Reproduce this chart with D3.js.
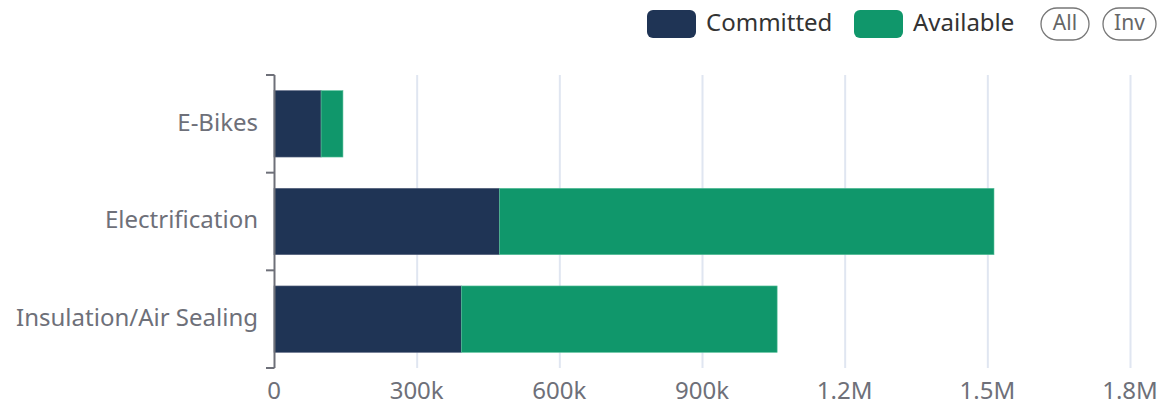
<!DOCTYPE html>
<html>
<head>
<meta charset="utf-8">
<script src="https://cdn.jsdelivr.net/npm/d3@7"></script>
<style>
  body { margin: 0; background: #fff; }
  svg { display: block; }
</style>
</head>
<body>
<svg id="chart"></svg>
<script>
// data
const categories = ['E-Bikes', 'Electrification', 'Insulation/Air Sealing'];
const committed = [99000, 474000, 394000];
const available = [46000, 1040000, 664000];
const seriesNames = ['Committed', 'Available'];
const xTicks = [0, 300000, 600000, 900000, 1200000, 1500000, 1800000];
const xTickLabels = ['0', '300k', '600k', '900k', '1.2M', '1.5M', '1.8M'];

// drawing constants
const W = 1160, H = 405;
const LEFT = 274, RIGHT = 1130, TOP = 75, BOTTOM = 368;
const COLORS = ['#1f3455', '#10976b'];
const TEXT = '#6e7079';
const FONT = '"Noto Sans", sans-serif';
const FS = 24;

const svg = d3.select('#chart')
  .attr('width', W)
  .attr('height', H)
  .attr('font-family', FONT);

const x = d3.scaleLinear().domain([0, 1800000]).range([LEFT, RIGHT]);
const y = d3.scaleBand().domain(categories).range([TOP, BOTTOM])
  .paddingInner(0.32).paddingOuter(0.16);

// vertical grid lines
svg.append('g')
  .selectAll('line')
  .data(xTicks.slice(1))
  .join('line')
  .attr('x1', d => x(d) + 0.5)
  .attr('x2', d => x(d) + 0.5)
  .attr('y1', TOP)
  .attr('y2', BOTTOM)
  .attr('stroke', '#e0e6f1')
  .attr('stroke-width', 2);

// stacked bars
const rows = categories.map((c, i) => ({ cat: c, vals: [committed[i], available[i]] }));
rows.forEach(r => {
  let acc = 0;
  r.vals.forEach((v, k) => {
    svg.append('rect')
      .attr('x', x(acc))
      .attr('y', y(r.cat))
      .attr('width', x(acc + v) - x(acc))
      .attr('height', y.bandwidth())
      .attr('fill', COLORS[k])
      .attr('stroke', k === 0 ? '#5a6680' : '#5cc19c')
      .attr('stroke-width', 0.6);
    acc += v;
  });
});

// y axis line + ticks at band boundaries
const step = y.step();
const bounds = d3.range(categories.length + 1).map(i => TOP + i * step);
svg.append('line')
  .attr('x1', LEFT + 0.5).attr('x2', LEFT + 0.5)
  .attr('y1', TOP).attr('y2', BOTTOM)
  .attr('stroke', TEXT).attr('stroke-width', 2);
svg.append('g')
  .selectAll('line')
  .data(bounds)
  .join('line')
  .attr('x1', LEFT - 8).attr('x2', LEFT + 0.5)
  .attr('y1', d => d).attr('y2', d => d)
  .attr('stroke', TEXT).attr('stroke-width', 2);

// category labels
svg.append('g')
  .selectAll('text')
  .data(categories)
  .join('text')
  .attr('x', LEFT - 16)
  .attr('y', d => y(d) + y.bandwidth() / 2)
  .attr('dy', '0.28em')
  .attr('text-anchor', 'end')
  .attr('font-size', FS)
  .attr('fill', TEXT)
  .text(d => d);

// x tick labels
svg.append('g')
  .selectAll('text')
  .data(xTicks)
  .join('text')
  .attr('x', d => x(d))
  .attr('y', 391)
  .attr('dy', '0.35em')
  .attr('text-anchor', 'middle')
  .attr('font-size', FS)
  .attr('fill', TEXT)
  .text((d, i) => xTickLabels[i]);

// legend
const legend = svg.append('g').attr('font-size', FS);
const legendX = [647, 854];
seriesNames.forEach((name, i) => {
  legend.append('rect')
    .attr('x', legendX[i]).attr('y', 10)
    .attr('width', 49).attr('height', 28)
    .attr('rx', 6)
    .attr('fill', COLORS[i]);
  legend.append('text')
    .attr('x', legendX[i] + 59).attr('y', 23)
    .attr('dy', '0.35em')
    .attr('fill', '#333')
    .text(name);
});

// selector buttons
const buttons = [{ t: 'All', x: 1041, w: 48 }, { t: 'Inv', x: 1103, w: 53 }];
buttons.forEach(b => {
  legend.append('rect')
    .attr('x', b.x).attr('y', 8)
    .attr('width', b.w).attr('height', 32)
    .attr('rx', 16)
    .attr('fill', 'none')
    .attr('stroke', '#777')
    .attr('stroke-width', 1.3);
  legend.append('text')
    .attr('x', b.x + b.w / 2).attr('y', 23)
    .attr('dy', '0.35em')
    .attr('text-anchor', 'middle')
    .attr('font-size', 21)
    .attr('fill', '#666')
    .text(b.t);
});
</script>
</body>
</html>
